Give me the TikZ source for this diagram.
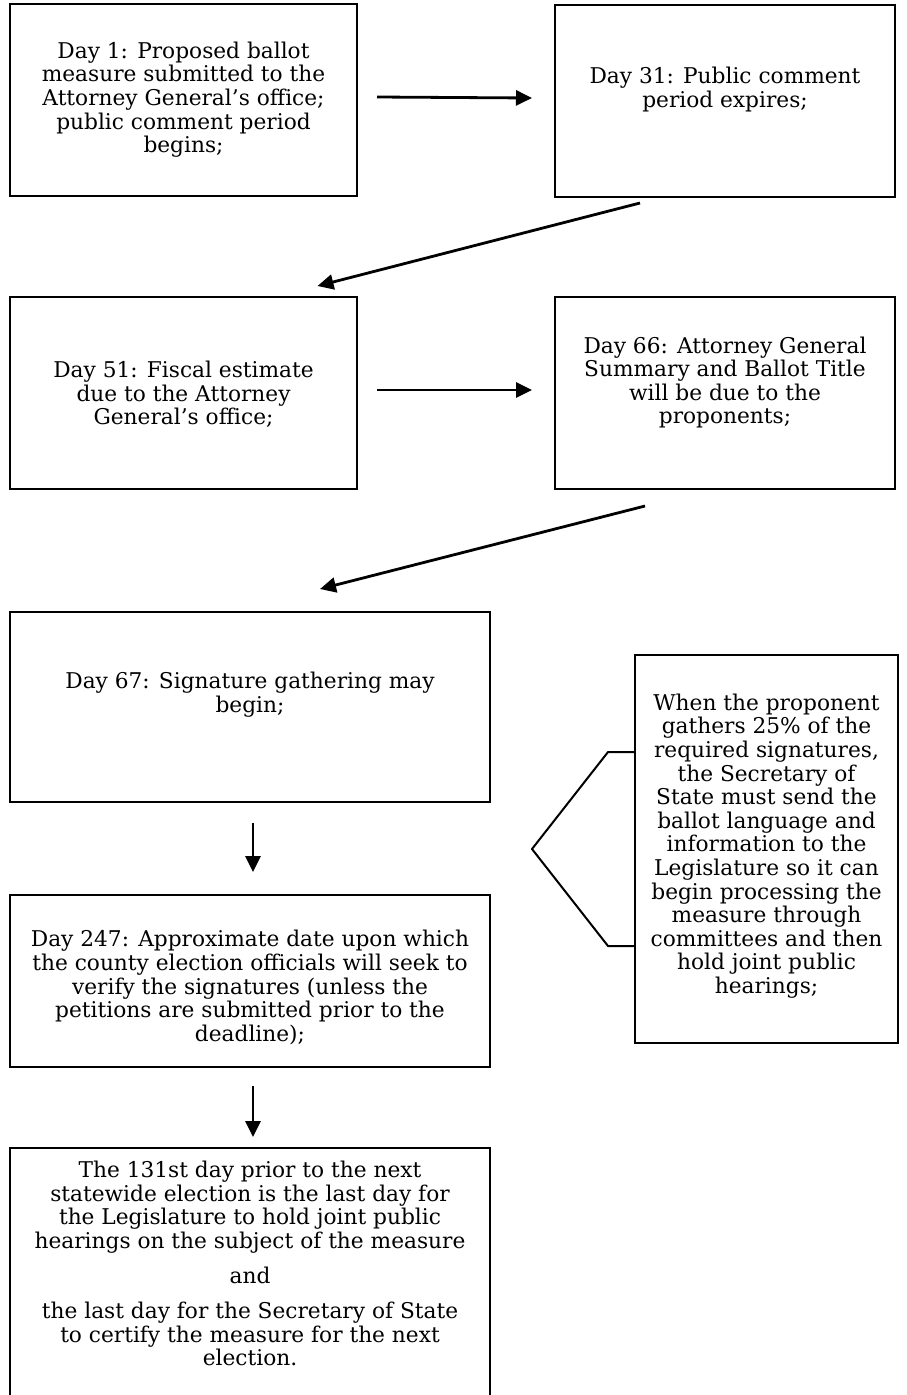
\documentclass[tikz,border=0pt]{standalone}
\usepackage{fontspec}
\setmainfont{DejaVu Serif}
\usetikzlibrary{arrows.meta, calc}

\tikzset{
  box/.style={draw, line width=2pt, rectangle, inner sep=0pt},
  txt/.style={align=center, inner sep=0pt, font=\fontsize{21.7}{23.6}\selectfont},
  flow/.style={line width=2.8pt, -{Triangle[length=16pt,width=15pt]}},
}

\begin{document}
\begin{tikzpicture}[x=1pt, y=-1pt]
  \useasboundingbox (0,0) rectangle (907,1395);
  \clip (0,0) rectangle (907,1395);
  % the boxes
  \node[box, minimum width=347, minimum height=192] (B1) at (183.5,100) {};
  \node[box, minimum width=340, minimum height=192] (B2) at (725,101) {};
  \node[box, minimum width=347, minimum height=192] (B3) at (183.5,393) {};
  \node[box, minimum width=340, minimum height=192] (B4) at (725,393) {};
  \node[box, minimum width=480, minimum height=190] (B5) at (250,707) {};
  \node[box, minimum width=480, minimum height=172] (B6) at (250,981) {};
  \node[box, minimum width=480, minimum height=280] (B7) at (250,1288) {};
  \node[box, minimum width=263, minimum height=388] (B8) at (766.5,849) {};
  % the texts
  \node[txt] (T1) at (183.5,99.7) {Day 1: Proposed ballot\\measure submitted to the\\Attorney General’s office;\\public comment period\\begins;};
  \node[txt] (T2) at (725,89.6) {Day 31: Public comment\\period expires;};
  \node[txt] (T3) at (183.5,394.6) {Day 51: Fiscal estimate\\due to the Attorney\\General’s office;};
  \node[txt] (T4) at (725,382.6) {Day 66: Attorney General\\Summary and Ballot Title\\will be due to the\\proponents;};
  \node[txt] (T5) at (250,694.6) {Day 67: Signature gathering may\\begin;};
  \node[txt] (T6) at (250,987.6) {Day 247: Approximate date upon which\\the county election officials will seek to\\verify the signatures (unless the\\petitions are submitted prior to the\\deadline);};
  \node[txt, anchor=north] (T7) at (250,1161) {The 131st day prior to the next\\statewide election is the last day for\\the Legislature to hold joint public\\hearings on the subject of the measure\\[11.5pt]and\\[11.5pt]the last day for the Secretary of State\\to certify the measure for the next\\election.};
  \node[txt] (T8) at (766.5,846) {When the proponent\\gathers 25\% of the\\required signatures,\\the Secretary of\\State must send the\\ballot language and\\information to the\\Legislature so it can\\begin processing the\\measure through\\committees and then\\hold joint public\\hearings;};
  % the arrows
  \draw[flow] ([shift={(19,-3)}]B1.east) -- ([shift={(-22,-3)}]B2.west);
  \draw[flow] ([shift={(19,-3)}]B3.east) -- ([shift={(-22,-3)}]B4.west);
  \draw[flow] ([shift={(-85,5)}]B2.south) -- ([shift={(134,-10)}]B3.north);
  \draw[flow] ([shift={(-80,16)}]B4.south) -- ([shift={(70,-22)}]B5.north);
  \draw[flow] ([shift={(3,20)}]B5.south) -- ([shift={(3,-22)}]B6.north);
  \draw[flow] ([shift={(3,18)}]B6.south) -- ([shift={(3,-10)}]B7.north);
  % the bracket
  \draw[line width=2pt, line join=round]
    ([yshift=97]B8.west) -- ++(-26,0) -- ++(-76,97) -- ++(76,97) -- ++(26,0);
\end{tikzpicture}
\end{document}
